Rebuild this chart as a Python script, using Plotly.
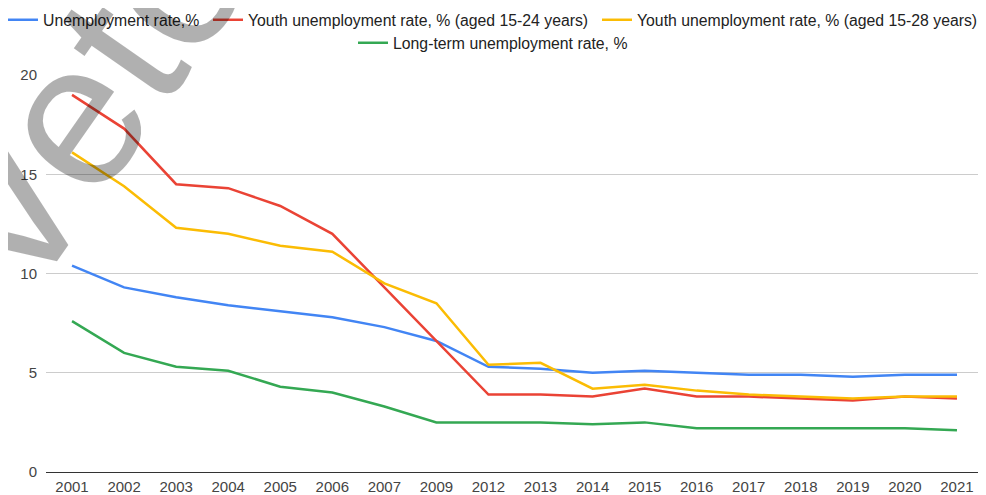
import plotly.graph_objects as go

years = ["2001", "2002", "2003", "2004", "2005", "2006", "2007", "2009", "2012",
         "2013", "2014", "2015", "2016", "2017", "2018", "2019", "2020", "2021"]
unemployment = [10.4, 9.3, 8.8, 8.4, 8.1, 7.8, 7.3, 6.6, 5.3, 5.2, 5.0, 5.1, 5.0, 4.9, 4.9, 4.8, 4.9, 4.9]
youth_15_24 = [19.0, 17.3, 14.5, 14.3, 13.4, 12.0, 9.3, 6.6, 3.9, 3.9, 3.8, 4.2, 3.8, 3.8, 3.7, 3.6, 3.8, 3.7]
youth_15_28 = [16.1, 14.4, 12.3, 12.0, 11.4, 11.1, 9.5, 8.5, 5.4, 5.5, 4.2, 4.4, 4.1, 3.9, 3.8, 3.7, 3.8, 3.8]
long_term = [7.6, 6.0, 5.3, 5.1, 4.3, 4.0, 3.3, 2.5, 2.5, 2.5, 2.4, 2.5, 2.2, 2.2, 2.2, 2.2, 2.2, 2.1]
y_ticks = [0, 5, 10, 15, 20]

names = ["Unemployment rate,%",
         "Youth unemployment rate, % (aged 15-24 years)",
         "Youth unemployment rate, % (aged 15-28 years)",
         "Long-term unemployment rate, %"]
values = [unemployment, youth_15_24, youth_15_28, long_term]
colors = ["#4285F4", "#EA4335", "#FBBC04", "#34A853"]
legend_ids = ["legend", "legend2", "legend3", "legend4"]

W, H = 986, 495
ML, MR, MT, MB = 38, 11, 67, 31
PW = W - ML - MR
# legend placement in px: left edge (from figure left), vertical middle (from figure top)
legend_left_px = [-5, 200, 589, 345]
legend_mid_px = [12, 12, 12, 35]

fig = go.Figure()
for name, vals, color, leg in zip(names, values, colors, legend_ids):
    fig.add_trace(go.Scatter(x=years, y=vals, name=name, mode="lines",
                             line=dict(color=color, width=2.5), legend=leg))

font_family = "Arial, 'Liberation Sans', sans-serif"
legend_layout = {}
for leg, lx, ly in zip(legend_ids, legend_left_px, legend_mid_px):
    legend_layout[leg] = dict(orientation="h", x=(lx - ML) / PW, xanchor="left", xref="paper",
                              y=1 - ly / H, yanchor="middle", yref="container",
                              font=dict(size=15.8, color="#222222"),
                              itemwidth=30, bgcolor="rgba(0,0,0,0)")

fig.update_layout(
    width=W, height=H,
    margin=dict(l=ML, r=MR, t=MT, b=MB, autoexpand=False),
    paper_bgcolor="white", plot_bgcolor="white",
    font=dict(family=font_family, size=15, color="#222222"),
    xaxis=dict(type="category", showgrid=False, showline=True, linecolor="#333333",
               linewidth=1, ticks="", tickfont=dict(size=15, color="#444444"),
               ticklabelstandoff=1,
               range=[-0.5, len(years) - 0.5]),
    yaxis=dict(range=[0, 20], tickvals=y_ticks, showgrid=True, gridcolor="#cccccc",
               gridwidth=1, zeroline=False, showline=False, ticks="",
               ticklabelstandoff=8,
               tickfont=dict(size=15, color="#444444")),
    showlegend=True,
    **legend_layout,
)

fig.add_annotation(text="Veto", xref="paper", yref="paper", x=0, y=1,
                   xshift=36, yshift=-25,
                   xanchor="center", yanchor="middle", showarrow=False, textangle=-55,
                   font=dict(family="Arial, sans-serif", size=205, color="rgba(0,0,0,0.31)"))

fig.write_html("out.html")
